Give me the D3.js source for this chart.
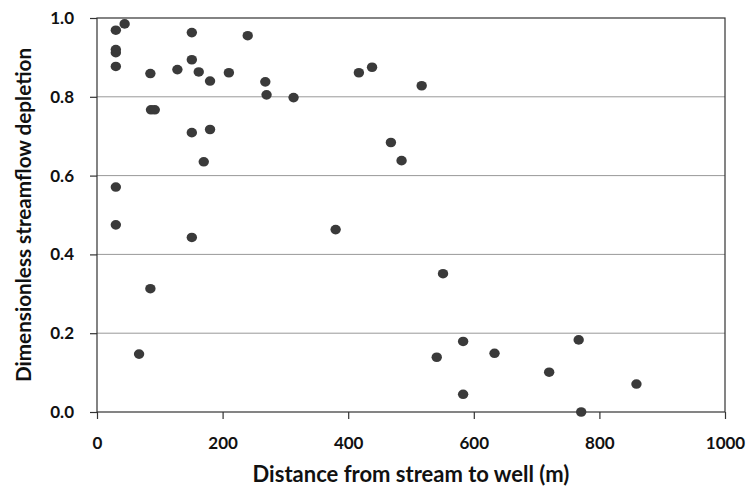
<!DOCTYPE html>
<html lang="en">
<head>
    <meta charset="UTF-8">
    <title>Streamflow depletion</title>
    <script src="https://d3js.org/d3.v7.min.js"></script>
    <style>
        body { margin: 0; background: #fff; }
        text { font-family: Lato, "Open Sans", sans-serif; font-weight: bold; fill: #111; }
        .grid line { stroke: #999; stroke-width: 1px; }
        .frame { fill: none; stroke: #333; stroke-width: 1.2px; }
        .axis path, .axis line { stroke: #333; stroke-width: 1.2px; }
    </style>
</head>
<body>
<svg id="chart" width="749" height="488"></svg>
<script>
    // distance from stream to well (m)
    const distance = [30, 44, 30, 30, 30, 85, 128, 151, 151, 162, 180, 210, 240, 86, 92,
        151, 180, 170, 30, 30, 151, 85, 67, 268, 270, 313, 417, 438, 517, 468, 485,
        380, 551, 583, 541, 633, 767, 720, 859, 583, 771];
    // dimensionless streamflow depletion
    const depletion = [0.969, 0.985, 0.912, 0.920, 0.877, 0.859, 0.869, 0.963, 0.894, 0.863, 0.840, 0.861, 0.955, 0.767, 0.767,
        0.709, 0.717, 0.635, 0.571, 0.475, 0.443, 0.313, 0.147, 0.838, 0.805, 0.798, 0.861, 0.875, 0.828, 0.684, 0.638,
        0.463, 0.351, 0.179, 0.139, 0.149, 0.183, 0.101, 0.071, 0.045, 0.0];
    const xTicks = [0, 200, 400, 600, 800, 1000];
    const yTicks = [0, 0.2, 0.4, 0.6, 0.8, 1.0];

    const margin = {left: 97, right: 24, top: 18, bottom: 76};
    const width = 749, height = 488;
    const svg = d3.select("#chart");

    const x = d3.scaleLinear().domain([0, 1000]).range([margin.left, width - margin.right]);
    const y = d3.scaleLinear().domain([0, 1]).range([height - margin.bottom, margin.top]);

    // horizontal gridlines
    svg.append("g").attr("class", "grid")
        .selectAll("line")
        .data(yTicks.slice(1, -1))
        .join("line")
        .attr("x1", x(0)).attr("x2", x(1000))
        .attr("y1", d => y(d)).attr("y2", d => y(d));

    // outer frame
    svg.append("rect").attr("class", "frame")
        .attr("x", x(0)).attr("y", y(1))
        .attr("width", x(1000) - x(0)).attr("height", y(0) - y(1));

    const xAxis = svg.append("g").attr("class", "axis")
        .attr("transform", `translate(0,${y(0)})`)
        .call(d3.axisBottom(x).tickValues(xTicks).tickFormat(d3.format("d")).tickSize(7).tickPadding(18));
    xAxis.select(".domain").remove();
    xAxis.selectAll("text").style("font-size", "17px");

    const yAxis = svg.append("g").attr("class", "axis")
        .attr("transform", `translate(${x(0)},0)`)
        .call(d3.axisLeft(y).tickValues(yTicks).tickFormat(d3.format(".1f")).tickSize(7).tickPadding(16));
    yAxis.select(".domain").remove();
    yAxis.selectAll("text").style("font-size", "17px");

    // points
    svg.append("g")
        .selectAll("ellipse")
        .data(distance.map((d, i) => [d, depletion[i]]))
        .join("ellipse")
        .attr("cx", d => x(d[0]))
        .attr("cy", d => y(d[1]))
        .attr("rx", 5.2)
        .attr("ry", 4.8)
        .attr("fill", "#3a3a3a");

    svg.append("text")
        .attr("x", 411)
        .attr("y", 482)
        .attr("text-anchor", "middle")
        .style("font-size", "22px")
        .text("Distance from stream to well (m)");

    svg.append("text")
        .attr("transform", `translate(31,${(y(0) + y(1)) / 2}) rotate(-90)`)
        .attr("text-anchor", "middle")
        .style("font-size", "20.7px")
        .text("Dimensionless streamflow depletion");
</script>
</body>
</html>
